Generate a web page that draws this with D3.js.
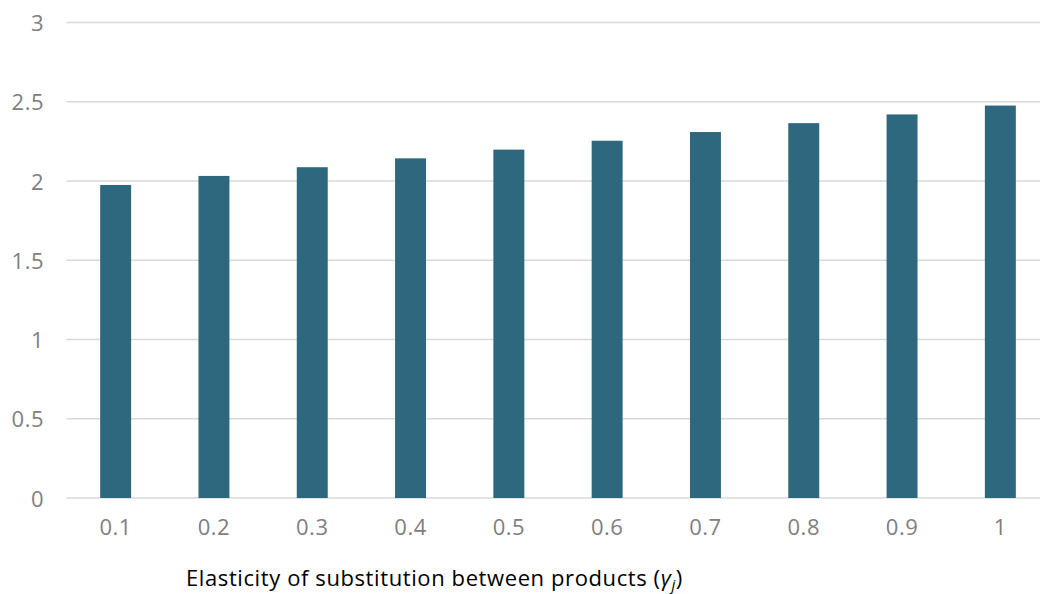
<!DOCTYPE html>
<html>
<head>
<meta charset="utf-8">
<script src="https://cdn.jsdelivr.net/npm/d3@7"></script>
<style>
  html, body { margin: 0; padding: 0; background: #ffffff; }
  svg { display: block; }
</style>
</head>
<body>
<script>
const categories = ["0.1", "0.2", "0.3", "0.4", "0.5", "0.6", "0.7", "0.8", "0.9", "1"];
const values = [1.975, 2.032, 2.087, 2.143, 2.198, 2.254, 2.309, 2.365, 2.42, 2.476];
const yTicks = [0, 0.5, 1, 1.5, 2, 2.5, 3];
const yTickLabels = ["0", "0.5", "1", "1.5", "2", "2.5", "3"];
const xTitle = "Elasticity of substitution between products (";

const W = 1040, H = 594;
const svg = d3.select("body").append("svg").attr("width", W).attr("height", H);

const x = d3.scaleBand().domain(categories).range([66.5, 1049.5]).paddingInner(0.685).paddingOuter(0.3425);
const y = d3.scaleLinear().domain([0, 3]).range([498, 22.5]);

const font = "'Open Sans', sans-serif";

// gridlines
svg.append("g").selectAll("line").data(yTicks).join("line")
  .attr("x1", 66.5).attr("x2", W)
  .attr("y1", d => y(d)).attr("y2", d => y(d))
  .attr("stroke", "#d9d9d9").attr("stroke-width", 1.5);

// y labels
svg.append("g").selectAll("text").data(yTicks).join("text")
  .attr("x", 44).attr("y", d => y(d) + 8.5)
  .attr("text-anchor", "end")
  .attr("font-family", font).attr("font-size", 22)
  .attr("letter-spacing", 0.5)
  .attr("fill", "#808080")
  .text((d, i) => yTickLabels[i]);

// bars
svg.append("g").selectAll("rect").data(values).join("rect")
  .attr("x", (d, i) => x(categories[i]))
  .attr("width", x.bandwidth())
  .attr("y", d => y(d))
  .attr("height", d => y(0) - y(d))
  .attr("fill", "#2e687e");

// x labels
svg.append("g").selectAll("text").data(categories).join("text")
  .attr("x", d => x(d) + x.bandwidth() / 2)
  .attr("y", 535)
  .attr("text-anchor", "middle")
  .attr("font-family", font).attr("font-size", 22)
  .attr("letter-spacing", 0.5)
  .attr("fill", "#808080")
  .text(d => d);

// x title
const t = svg.append("text")
  .attr("x", 186).attr("y", 586)
  .attr("font-family", font).attr("font-size", 22)
  .attr("letter-spacing", 0.6)
  .attr("fill", "#000000");
t.append("tspan").text(xTitle);
t.append("tspan").attr("font-style", "italic").text("γ");
t.append("tspan").attr("font-style", "italic").attr("font-size", 15).attr("dy", 4).text("j");
t.append("tspan").attr("dy", -4).text(")");
</script>
</body>
</html>
